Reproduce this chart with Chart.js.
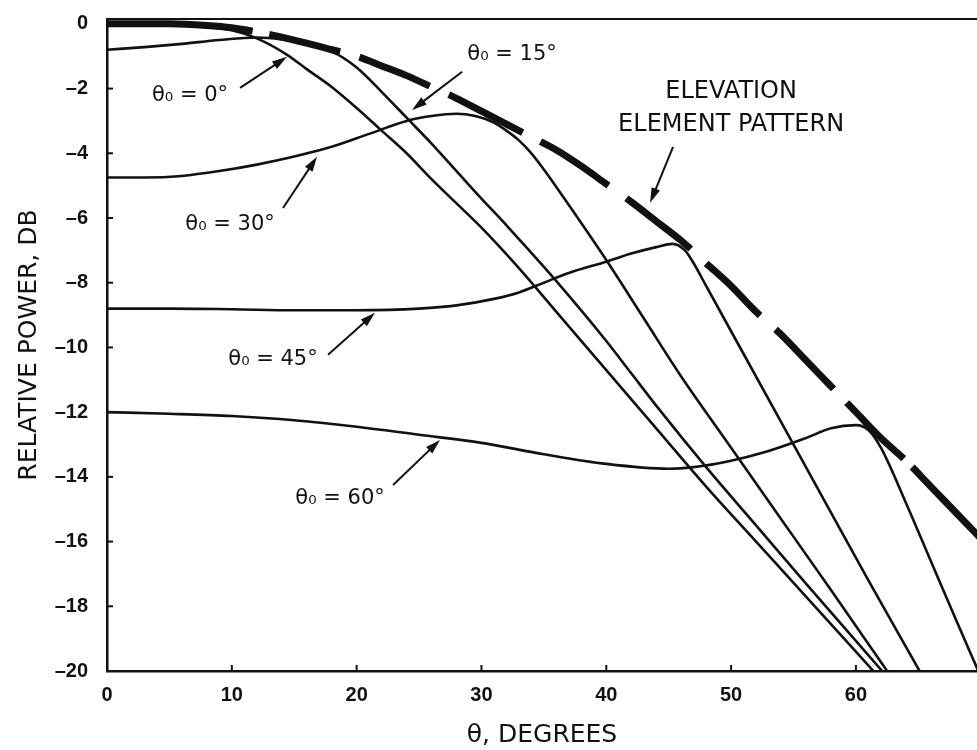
<!DOCTYPE html>
<html>
<head>
<meta charset="utf-8">
<title>Relative power vs theta</title>
<script src="https://cdn.jsdelivr.net/npm/chart.js@4.4.1/dist/chart.umd.min.js"></script>
<style>
  html, body { margin: 0; padding: 0; background: #fff; overflow: hidden; }
  #wrap { width: 977px; height: 750px; }
</style>
</head>
<body>
<div id="wrap"><canvas id="power-chart"></canvas></div>
<script>
// theta (degrees) and relative power (dB) for each curve
const elemX = [0, 5, 8, 10, 12, 15, 18, 20, 22, 24, 26, 28, 30, 32, 34, 36, 38, 40, 42, 44, 46, 48, 50, 52, 54, 56, 58, 60, 62, 64, 66, 68, 70];
const elemY = [0, 0, -0.05, -0.12, -0.25, -0.5, -0.8, -1.0, -1.3, -1.6, -1.95, -2.3, -2.7, -3.1, -3.5, -3.9, -4.4, -4.95, -5.5, -6.1, -6.7, -7.4, -8.1, -8.9, -9.6, -10.4, -11.2, -12.0, -12.8, -13.5, -14.3, -15.1, -15.9];

const scan0X = [0, 4, 8, 10, 12, 14.4, 16, 18, 20, 22, 24, 26, 28, 30, 33, 36, 40, 44, 48, 52, 56, 61.4];
const scan0Y = [0, 0, -0.1, -0.2, -0.45, -0.95, -1.4, -1.95, -2.6, -3.3, -4.0, -4.8, -5.55, -6.3, -7.55, -8.9, -10.7, -12.5, -14.3, -16.0, -17.7, -20];

const scan15X = [0, 3, 6, 9, 12, 14, 16, 18, 20, 22, 24, 26, 28, 30, 31.7, 33, 36, 40, 42, 44, 48, 52, 56, 62.1];
const scan15Y = [-0.8, -0.72, -0.62, -0.5, -0.42, -0.48, -0.62, -0.85, -1.35, -2.1, -2.9, -3.7, -4.55, -5.4, -6.1, -6.65, -7.95, -9.8, -10.8, -11.8, -13.7, -15.5, -17.3, -20];

const scan30X = [0, 3, 6, 9, 12, 15, 18, 21, 24, 26, 28, 29.5, 31, 32, 33, 34, 35, 37, 40, 43, 46, 50, 54, 58, 62.5];
const scan30Y = [-4.75, -4.75, -4.7, -4.55, -4.35, -4.1, -3.8, -3.4, -3.0, -2.85, -2.78, -2.85, -3.05, -3.3, -3.6, -4.0, -4.5, -5.6, -7.3, -9.1, -10.9, -13.1, -15.3, -17.5, -20];

const scan45X = [0, 5, 10, 15, 20, 25, 28, 31, 33, 35, 37, 40, 42, 44, 45.3, 46.3, 47, 48, 50, 54, 57, 61, 65.1];
const scan45Y = [-8.8, -8.8, -8.82, -8.85, -8.85, -8.8, -8.7, -8.5, -8.3, -8.0, -7.7, -7.35, -7.1, -6.9, -6.8, -7.0, -7.4, -8.1, -9.5, -12.3, -14.4, -17.2, -20];

const scan60X = [0, 5, 10, 15, 20, 25, 30, 35, 40, 45, 47, 50, 53, 56, 58, 60, 61, 62, 64, 66, 68, 69.8];
const scan60Y = [-12.0, -12.05, -12.12, -12.25, -12.45, -12.7, -12.95, -13.3, -13.6, -13.75, -13.7, -13.5, -13.2, -12.8, -12.5, -12.4, -12.55, -13.1, -14.8, -16.6, -18.4, -20];

const xTicks = [0, 10, 20, 30, 40, 50, 60];
const yTicks = [0, -2, -4, -6, -8, -10, -12, -14, -16, -18, -20];

// callout labels and their arrows, in data units
const notes = [
  { text: ['θ₀ = 0°'], at: [6.65, -2.23], tail: [10.66, -1.98], head: [14.42, -1.02] },
  { text: ['θ₀ = 15°'], at: [32.45, -0.96], tail: [28.45, -1.48], head: [24.44, -2.66] },
  { text: ['θ₀ = 30°'], at: [9.86, -6.21], tail: [14.1, -5.69], head: [16.83, -4.11] },
  { text: ['θ₀ = 45°'], at: [13.3, -10.39], tail: [17.71, -10.23], head: [21.47, -8.93] },
  { text: ['θ₀ = 60°'], at: [18.67, -14.68], tail: [22.92, -14.25], head: [26.68, -12.86] },
  { text: ['ELEVATION', 'ELEMENT PATTERN'], at: [50.0, -2.6], tail: [45.35, -3.8], head: [43.51, -5.53], big: true }
];

const ink = '#111';

function pts(xs, ys) {
  return xs.map((x, i) => ({ x: x, y: ys[i] }));
}

function curve(xs, ys) {
  return {
    data: pts(xs, ys),
    borderColor: ink,
    borderWidth: 2.6,
    pointRadius: 0,
    fill: false,
    cubicInterpolationMode: 'monotone'
  };
}

const elemSet = {
  data: pts(elemX, elemY),
  borderColor: ink,
  borderWidth: 7,
  borderCapStyle: 'butt',
  borderDash: [146, 17, 73, 20, 76, 21, 83, 20, 81, 22, 82, 21, 75, 21, 83, 19, 80, 12, 200, 20],
  pointRadius: 0,
  fill: false,
  cubicInterpolationMode: 'monotone'
};

// top frame line, inward tick marks and the callouts
const decorations = {
  id: 'decorations',
  afterDraw(chart) {
    const ctx = chart.ctx;
    const xs = chart.scales.x, ys = chart.scales.y;
    const area = chart.chartArea;
    ctx.save();
    ctx.strokeStyle = ink;
    ctx.lineWidth = 2;
    ctx.beginPath();
    ctx.moveTo(area.left, area.top);
    ctx.lineTo(chart.width, area.top);
    ctx.stroke();

    xTicks.forEach(v => {
      const px = xs.getPixelForValue(v);
      ctx.beginPath();
      ctx.moveTo(px, area.bottom);
      ctx.lineTo(px, area.bottom - 6);
      ctx.stroke();
    });
    yTicks.forEach(v => {
      const py = ys.getPixelForValue(v);
      ctx.beginPath();
      ctx.moveTo(area.left, py);
      ctx.lineTo(area.left + 6, py);
      ctx.stroke();
    });

    ctx.fillStyle = ink;
    notes.forEach(n => {
      const tx = xs.getPixelForValue(n.tail[0]), ty = ys.getPixelForValue(n.tail[1]);
      const hx = xs.getPixelForValue(n.head[0]), hy = ys.getPixelForValue(n.head[1]);
      const a = Math.atan2(hy - ty, hx - tx);
      ctx.lineWidth = 2;
      ctx.beginPath();
      ctx.moveTo(tx, ty);
      ctx.lineTo(hx - 10 * Math.cos(a), hy - 10 * Math.sin(a));
      ctx.stroke();
      ctx.beginPath();
      ctx.moveTo(hx, hy);
      ctx.lineTo(hx - 15 * Math.cos(a) + 4.5 * Math.sin(a), hy - 15 * Math.sin(a) - 4.5 * Math.cos(a));
      ctx.lineTo(hx - 15 * Math.cos(a) - 4.5 * Math.sin(a), hy - 15 * Math.sin(a) + 4.5 * Math.cos(a));
      ctx.closePath();
      ctx.fill();

      const cx = xs.getPixelForValue(n.at[0]), cy = ys.getPixelForValue(n.at[1]);
      const size = n.big ? 24 : 21;
      const lh = n.big ? 33 : 24;
      ctx.font = size + 'px "DejaVu Sans"';
      ctx.textAlign = 'center';
      ctx.textBaseline = 'middle';
      n.text.forEach((t, i) => {
        ctx.fillText(t, cx, cy + (i - (n.text.length - 1) / 2) * lh);
      });
    });
    ctx.restore();
  }
};

const tickFont = { family: 'Liberation Sans', size: 20, weight: 'bold' };

new Chart('power-chart', {
  type: 'line',
  data: {
    datasets: [
      curve(scan0X, scan0Y),
      curve(scan15X, scan15Y),
      curve(scan30X, scan30Y),
      curve(scan45X, scan45Y),
      curve(scan60X, scan60Y),
      elemSet
    ]
  },
  options: {
    responsive: true,
    maintainAspectRatio: false,
    animation: false,
    devicePixelRatio: 1,
    layout: { padding: { top: 19, right: 0, left: 0, bottom: 0 } },
    plugins: {
      legend: { display: false },
      tooltip: { enabled: false }
    },
    scales: {
      x: {
        type: 'linear',
        min: 0,
        max: 69.7,
        afterBuildTicks: s => { s.ticks = xTicks.map(v => ({ value: v })); },
        afterFit: s => { s.height = 79; s.paddingLeft = 0; s.paddingRight = 0; },
        grid: { drawOnChartArea: false, drawTicks: false },
        border: { display: true, width: 2.5, color: ink },
        ticks: { font: tickFont, color: ink, padding: 12, maxRotation: 0 },
        title: {
          display: true,
          text: 'θ, DEGREES',
          font: { family: 'DejaVu Sans', size: 25 },
          color: ink,
          padding: { top: 0, bottom: 0 }
        }
      },
      y: {
        min: -20,
        max: 0.15,
        afterBuildTicks: s => { s.ticks = yTicks.map(v => ({ value: v })); },
        afterFit: s => { s.width = 107; s.paddingTop = 0; s.paddingBottom = 0; },
        grid: { drawOnChartArea: false, drawTicks: false },
        border: { display: true, width: 2.5, color: ink },
        ticks: {
          font: tickFont,
          color: ink,
          padding: 19,
          callback: v => (v < 0 ? '\u2013' + Math.abs(v) : String(v))
        },
        title: {
          display: true,
          text: 'RELATIVE POWER, DB',
          font: { family: 'DejaVu Sans', size: 25 },
          color: ink,
          padding: { top: 14, bottom: 0 }
        }
      }
    }
  },
  plugins: [decorations]
});
</script>
</body>
</html>
